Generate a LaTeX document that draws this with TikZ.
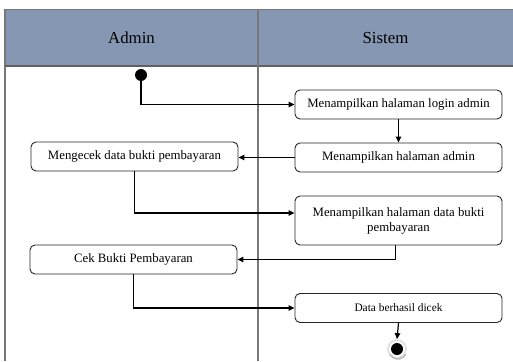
\documentclass[tikz,border=0pt]{standalone}
\usepackage{fontspec}
\setmainfont{Liberation Serif}
\usetikzlibrary{arrows.meta}
\definecolor{laneHead}{RGB}{134,151,179}
\definecolor{laneLine}{RGB}{120,120,120}
\begin{document}
\begin{tikzpicture}[x=1pt,y=-1pt,
  act/.style={draw=black!85, line width=0.9pt, rounded corners=5pt, fill=white,
    minimum width=207pt, minimum height=29pt, inner sep=2pt, align=center,
    font=\fontsize{12.8}{15}\selectfont},
  flow/.style={draw=black, line width=1.2pt, -{Triangle[length=6pt,width=5.5pt]}},
  lane/.style={draw=laneLine, line width=1.2pt}]
  \useasboundingbox (0,0) rectangle (513,361);
  % swimlane header and borders
  \fill[laneHead] (5,9.5) rectangle (513,66);
  \draw[lane] (513,9.5) -- (5,9.5) -- (5,361);
  \draw[lane, draw=laneLine!80!black] (5,66) -- (513,66);
  \draw[lane] (258,9.5) -- (258,361);
  \node[font=\fontsize{16.8}{19}\selectfont] (hadmin) at (131.5,38) {Admin};
  \node[font=\fontsize{16.8}{19}\selectfont] (hsistem) at (385.5,38) {Sistem};
  % initial state
  \node[circle, fill=black, inner sep=0pt, minimum size=12pt] (start) at (141,75) {};
  % activities
  \node[act] (b1) at (398.5,104.5) {Menampilkan halaman login admin};
  \node[act] (b2) at (398.5,157.5) {Menampilkan halaman admin};
  \node[act] (m1) at (134.5,156.5) {Mengecek data bukti pembayaran};
  \node[act, minimum height=49pt] (b3) at (398.5,220.5) {Menampilkan halaman data bukti\\pembayaran};
  \node[act] (c1) at (133.5,259.5) {Cek Bukti Pembayaran};
  \node[act, font=\fontsize{11.4}{14}\selectfont] (b4) at (398.5,308) {Data berhasil dicek};
  % final state: light ring with a soft shade, black core
  \node[circle, draw=black!12, line width=1.8pt, fill=white, inner sep=0pt, minimum size=18pt] (endring) at (397,349) {};
  \draw[black!25, line width=1.6pt] ([shift={(0.8,0.8)}]endring.center) ++(-30:9.2pt) arc[start angle=-30, end angle=-150, radius=9.2pt];
  \node[circle, fill=black, inner sep=0pt, minimum size=12pt] (end) at (397,349) {};
  % control flow
  \draw[flow] (start.south) |- (b1.west);
  \draw[flow] (b1.south) -- (b2.north);
  \draw[flow] (b2.west) -- (b2.west -| m1.east);
  \draw[flow] (m1.south) |- ([yshift=7.5pt]b3.west);
  \draw[flow] ([xshift=-3pt]b3.south) |- (c1.east);
  \draw[flow] (c1.south) |- (b4.west);
  \draw[flow] (b4.south) -- (endring.north);
\end{tikzpicture}
\end{document}
